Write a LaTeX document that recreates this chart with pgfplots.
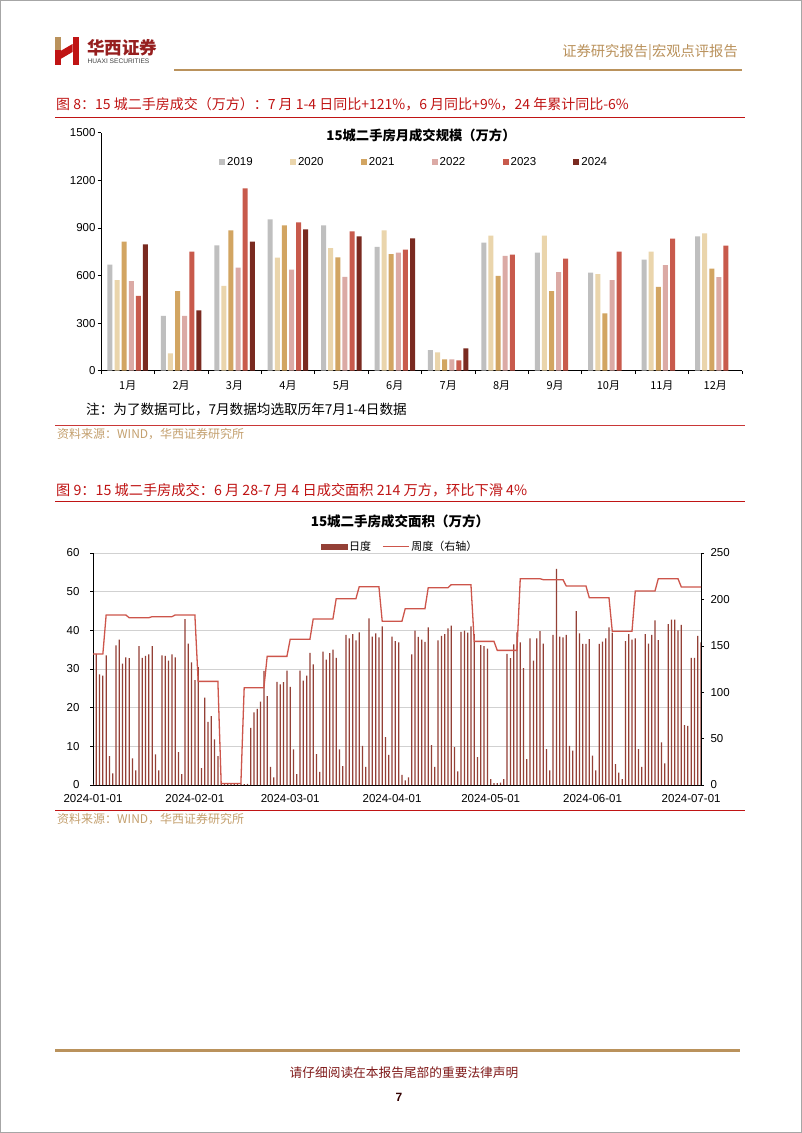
\documentclass[border=0pt]{standalone}
\usepackage{pgfplots}
\pgfplotsset{compat=1.18}
\usepackage{pgfplotstable}
\usepackage{fontspec}
\setmainfont{Liberation Sans}
\newfontfamily\cjk{Noto Sans CJK SC}
\newcommand{\fs}[1]{\fontsize{#1bp}{#1bp}\selectfont}
\definecolor{c2019}{RGB}{191,191,191}
\definecolor{c2020}{RGB}{234,213,172}
\definecolor{c2021}{RGB}{210,165,98}
\definecolor{c2022}{RGB}{219,170,165}
\definecolor{c2023}{RGB}{200,90,76}
\definecolor{c2024}{RGB}{122,42,32}
\definecolor{capred}{RGB}{192,20,20}
\definecolor{hdrgold}{RGB}{186,146,92}
\definecolor{srcgold}{RGB}{196,160,110}
\definecolor{huaxired}{RGB}{150,30,30}
\definecolor{daily}{RGB}{148,64,54}
\definecolor{weekly}{RGB}{205,85,75}
\pgfplotsset{
  sqlegend/.style={legend image code/.code={\fill[##1] (0bp,-3bp) rectangle (6bp,3bp);}},
  lineleg/.style={legend image code/.code={\draw[##1] (0bp,0bp) -- (26bp,0bp);}},
  barleg/.style={legend image code/.code={\fill[daily] (0bp,-2.6bp) rectangle (26bp,2.6bp);}},
}

\pgfplotstableread{
m a b c d e
1 668 571 813 565 471
2 345 109 502 345 750
3 790 534 884 649 1149
4 954 712 916 637 935
5 916 773 714 592 878
6 781 884 735 744 763
7 130 116 71 71 65
8 807 851 597 723 731
9 744 851 502 622 706
10 618 609 361 571 750
11 700 750 529 666 832
12 847 866 643 590 788
}\monthly
\pgfplotstableread{
m f
1 796
2 380
3 813
4 891
5 847
6 834
7 141
}\monthlyB

\pgfplotstableread{
d v
0 0.3
1 33.9
2 28.6
3 28.3
4 33.5
5 7.5
6 3.0
7 36.1
8 37.6
9 31.4
10 33.0
11 32.8
12 6.9
13 3.8
14 35.9
15 32.9
16 33.4
17 33.8
18 35.9
19 7.9
20 3.8
21 33.5
22 33.4
23 32.2
24 33.8
25 33.0
26 8.5
27 2.8
28 42.9
29 36.6
30 31.7
31 27.1
32 30.5
33 4.4
34 22.6
35 16.3
36 17.8
37 11.8
38 7.5
39 0.6
40 0.2
41 0.2
42 0.2
43 0.2
44 0.2
45 0.2
46 0.2
47 0.3
48 14.8
49 18.8
50 19.7
51 21.6
52 29.5
53 23.0
54 4.7
55 2.0
56 26.7
57 26.0
58 26.6
59 29.6
60 25.4
61 9.2
62 2.8
63 29.6
64 27.0
65 28.3
66 34.2
67 31.2
68 8.0
69 3.4
70 34.5
71 32.4
72 34.1
73 35.0
74 32.9
75 9.2
76 4.9
77 38.8
78 37.9
79 39.0
80 37.4
81 39.5
82 10.1
83 4.7
84 43.1
85 38.4
86 39.2
87 38.2
88 41.0
89 12.4
90 7.8
91 38.4
92 37.2
93 36.9
94 2.6
95 1.2
96 2.0
97 33.8
98 39.9
99 38.3
100 37.6
101 37.0
102 40.8
103 10.3
104 4.7
105 37.4
106 38.6
107 39.0
108 40.5
109 41.2
110 9.8
111 3.5
112 39.6
113 39.9
114 39.4
115 41.0
116 39.0
117 7.2
118 36.2
119 35.9
120 35.3
121 1.5
122 0.5
123 0.5
124 0.6
125 1.5
126 33.9
127 32.8
128 36.4
129 39.5
130 36.9
131 30.2
132 6.7
133 37.9
134 32.2
135 37.9
136 39.8
137 36.6
138 9.3
139 3.8
140 38.8
141 55.9
142 38.4
143 38.2
144 38.8
145 10.1
146 8.9
147 45.0
148 39.2
149 36.5
150 36.5
151 37.7
152 7.6
153 3.8
154 36.5
155 37.1
156 37.9
157 40.8
158 39.4
159 5.4
160 3.2
161 1.5
162 37.2
163 39.0
164 37.6
165 37.9
166 9.3
167 4.7
168 39.0
169 36.6
170 38.8
171 42.6
172 37.5
173 11.0
174 5.6
175 41.6
176 42.8
177 42.8
178 40.0
179 41.4
180 15.5
181 15.3
182 32.9
183 32.9
184 38.6
185 36.9
}\daily

\pgfplotstableread{
d w
0 141.2
3 141.2
4 183.2
10 183.2
11 180.3
17 180.3
18 181.4
24 181.4
25 183.2
31 183.2
32 111.7
38 111.7
39 1.6
45 1.6
46 104.9
52 104.9
53 138.6
59 138.6
60 157.0
66 157.0
67 178.9
73 178.9
74 200.8
80 200.8
81 213.7
87 213.7
88 176.4
94 176.4
95 190.0
101 190.0
102 212.6
108 212.6
109 215.9
115 215.9
116 154.8
122 154.8
123 145.1
129 145.1
130 222.3
136 222.3
137 221.3
143 221.3
144 214.4
150 214.4
151 201.9
157 201.9
158 165.6
164 165.6
165 209.1
171 209.1
172 222.3
178 222.3
179 213.4
185 213.4
}\weeklytab

\begin{document}
\begin{tikzpicture}[x=1bp,y=1bp]
\path[use as bounding box] (0,0) rectangle (802,-1133);
\fill[white] (0,0) rectangle (802,-1133);
\draw[gray!70, line width=1.2bp] (0.6,-0.6) rectangle (801.4,-1132.4);

% ---------- header ----------
\fill[hdrgold] (55,-37) rectangle (60.5,-50);
\fill[capred] (55,-50) rectangle (60.5,-64.5);
\fill[capred] (72.5,-37) rectangle (79,-64.5);
\fill[capred] (60.5,-51) -- (72.5,-44) -- (72.5,-52) -- (60.5,-59) -- cycle;
\node[anchor=west, inner sep=0, text=huaxired, font=\cjk\bfseries\fs{17.5}] at (87,-47.5) {华西证券};
\node[anchor=west, inner sep=0, text=black!75, font=\fs{6.6}] at (87.5,-61) {HUAXI SECURITIES};
\node[anchor=east, inner sep=0, text=hdrgold, font=\cjk\fs{14.3}] at (738,-52) {证券研究报告|宏观点评报告};
\draw[hdrgold, line width=2.2bp] (174,-70) -- (742,-70);

% ---------- figure 8 caption ----------
\node[anchor=west, inner sep=0, text=capred, font=\cjk\fs{14}] at (56,-104) {图 8：15 城二手房成交（万方）：7 月 1-4 日同比+121\%，6 月同比+9\%，24 年累计同比-6\%};
\draw[capred, line width=0.8bp] (55,-117) -- (745,-117);

\node[inner sep=0, font=\cjk\bfseries\fs{13.3}] at (421,-135) {15城二手房月成交规模（万方）};

\begin{axis}[
  at={(101bp,-370.7bp)}, anchor=south west, scale only axis,
  width=641bp, height=238bp,
  xmin=0.5, xmax=12.5, ymin=0, ymax=1500,
  axis x line*=bottom, axis y line*=left,
  axis line style={black, line width=0.7bp},
  ytick={0,300,...,1500},
  minor ytick={0,300,...,1500},
  xtick={1,...,12},
  xticklabels={1月,2月,3月,4月,5月,6月,7月,8月,9月,10月,11月,12月},
  minor xtick={0.5,1.5,...,12.5},
  tick align=outside, major tick length=0pt, minor tick length=3.5bp,
  tick style={black, line width=0.6bp},
  xticklabel style={font=\cjk\fs{11}, yshift=-7bp},
  yticklabel style={font=\fs{11.5}, xshift=-2bp},
  /pgf/number format/assume math mode=true,
  /pgf/number format/1000 sep={},
  ybar=2.1bp, bar width=5bp,
  every axis plot post/.append style={sqlegend},
  legend style={at={(rel axis cs:0.184,0.877)}, anchor=west, draw=none, fill=none,
    inner sep=0pt, font=\fs{11.5}, legend columns=6,
    /tikz/every even column/.append style={column sep=35.3bp}},
]
\addplot[fill=c2019, draw=none, sqlegend] table[x=m,y=a]{\monthly};
\addplot[fill=c2020, draw=none, sqlegend] table[x=m,y=b]{\monthly};
\addplot[fill=c2021, draw=none, sqlegend] table[x=m,y=c]{\monthly};
\addplot[fill=c2022, draw=none, sqlegend] table[x=m,y=d]{\monthly};
\addplot[fill=c2023, draw=none, sqlegend] table[x=m,y=e]{\monthly};
\addplot[fill=c2024, draw=none, sqlegend] table[x=m,y=f]{\monthlyB};
\legend{2019,2020,2021,2022,2023,2024}
\end{axis}

\node[anchor=west, inner sep=0, font=\cjk\fs{13.6}] at (86,-409) {注：为了数据可比，7月数据均选取历年7月1-4日数据};
\draw[capred!85, line width=0.8bp] (55,-425.5) -- (745,-425.5);
\node[anchor=west, inner sep=0, text=srcgold, font=\cjk\fs{12}] at (57,-434.5) {资料来源：WIND，华西证券研究所};

% ---------- figure 9 ----------
\node[anchor=west, inner sep=0, text=capred, font=\cjk\fs{14.2}] at (56,-490) {图 9：15 城二手房成交：6 月 28-7 月 4 日成交面积 214 万方，环比下滑 4\%};
\draw[capred, line width=0.8bp] (55,-501.5) -- (745,-501.5);

\node[inner sep=0, font=\cjk\bfseries\fs{13.5}] at (400,-521) {15城二手房成交面积（万方）};

\begin{axis}[
  at={(93bp,-785bp)}, anchor=south west, scale only axis,
  width=608bp, height=232bp,
  xmin=0, xmax=185, ymin=0, ymax=60,
  axis x line*=bottom, axis y line*=left,
  axis line style={black, line width=0.7bp},
  ytick={0,10,...,60}, ymajorgrids, grid style={black!18, line width=0.6bp},
  xtick={0,31,60,91,121,152,182},
  xticklabels={2024-01-01,2024-02-01,2024-03-01,2024-04-01,2024-05-01,2024-06-01,2024-07-01},
  xtick style={draw=none},
  tick align=outside, major tick length=3bp,
  tick style={black, line width=0.6bp},
  ticklabel style={font=\fs{11.5}},
  yticklabel style={xshift=-7bp},
  xticklabel style={yshift=-3bp},
  /pgf/number format/assume math mode=true,
  ybar, bar width=1.25bp,
]
\addplot[fill=daily, draw=none] table[x=d,y=v]{\daily};
\end{axis}

\begin{axis}[
  at={(93bp,-785bp)}, anchor=south west, scale only axis,
  width=608bp, height=232bp,
  xmin=0, xmax=185, ymin=0, ymax=250,
  axis x line=none, axis y line*=right,
  axis line style={black, line width=0.7bp},
  ytick={0,50,...,250},
  tick align=outside, major tick length=3bp,
  tick style={black, line width=0.6bp},
  ticklabel style={font=\fs{11.5}},
  yticklabel style={xshift=3bp},
  /pgf/number format/assume math mode=true,
  legend style={at={(rel axis cs:0.505,1.027)}, anchor=center, draw=none, fill=none,
    inner sep=0pt, font=\cjk\fs{11}, legend columns=2,
    /tikz/every even column/.append style={column sep=9bp}},
]
\addlegendimage{barleg}
\addlegendentry{日度}
\addplot[weekly, line width=1.3bp, mark=none, lineleg] table[x=d,y=w]{\weeklytab};
\addlegendentry{周度（右轴）}
\end{axis}

\draw[capred, line width=0.8bp] (55,-810.7) -- (745,-810.7);
\node[anchor=west, inner sep=0, text=srcgold, font=\cjk\fs{12}] at (57,-819) {资料来源：WIND，华西证券研究所};

% ---------- footer ----------
\draw[hdrgold, line width=3bp] (55,-1050.5) -- (740,-1050.5);
\node[inner sep=0, text=huaxired!85!black, font=\cjk\fs{12.7}] at (404,-1073) {请仔细阅读在本报告尾部的重要法律声明};
\node[inner sep=0, text=black!80!red, font=\bfseries\fs{12}] at (399,-1097) {7};
\end{tikzpicture}
\end{document}
